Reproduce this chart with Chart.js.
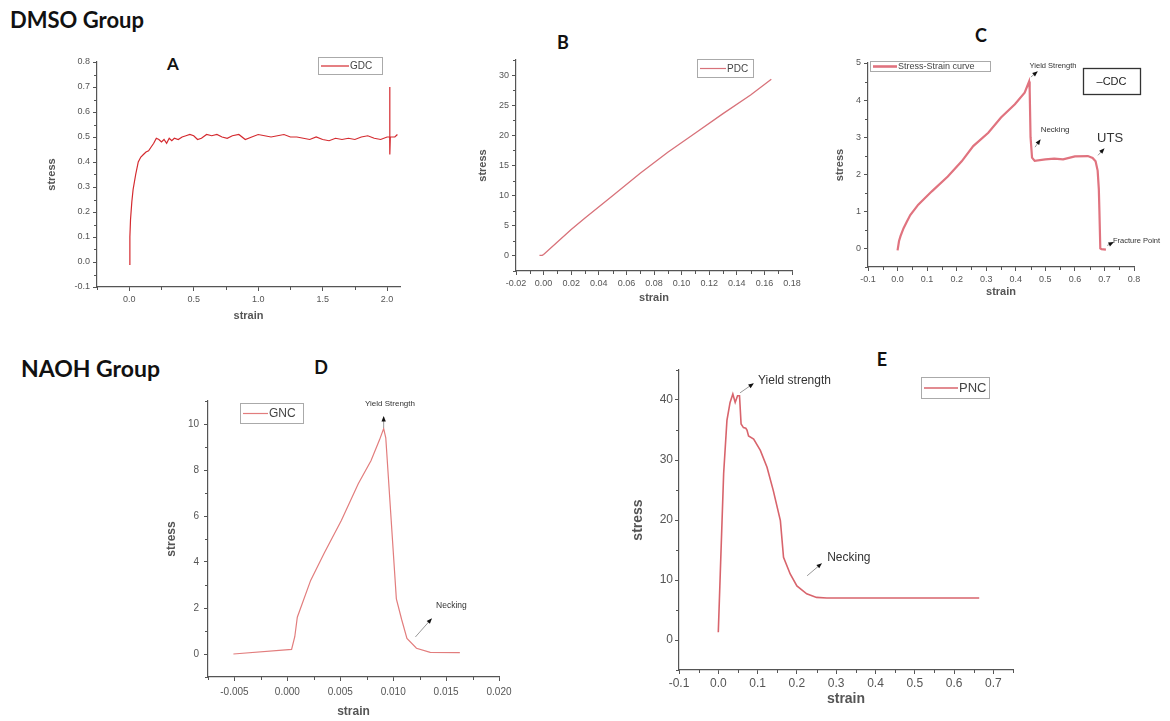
<!DOCTYPE html>
<html>
<head>
<meta charset="utf-8">
<script src="https://cdn.jsdelivr.net/npm/chart.js@4.4.1/dist/chart.umd.min.js"></script>
<style>
body { margin: 0; background: #fff; width: 1170px; height: 721px; position: relative; overflow: hidden; }
canvas { position: absolute; }
.head { position: absolute; font-family: Lato, "Open Sans", sans-serif; font-weight: 700; color: #111; white-space: nowrap; line-height: 1; }
.tag { position: absolute; font-family: Lato, "Open Sans", sans-serif; font-weight: 700; color: #111; transform: translate(-50%, -50%); line-height: 1; }
</style>
</head>
<body>
<div class="head" style="left:10px;top:9px;font-size:22px">DMSO Group</div>
<div class="head" style="left:21px;top:357px;font-size:23px">NAOH Group</div>
<div class="tag" style="left:173px;top:63px;font-size:17px">A</div>
<div class="tag" style="left:563px;top:42px;font-size:18px">B</div>
<div class="tag" style="left:981px;top:35px;font-size:18px">C</div>
<div class="tag" style="left:321px;top:367px;font-size:18px">D</div>
<div class="tag" style="left:882px;top:359px;font-size:18px">E</div>

<canvas id="chartA" width="370" height="273" style="left:45px;top:50px"></canvas>
<canvas id="chartB" width="336" height="257" style="left:476px;top:48px"></canvas>
<canvas id="chartC" width="337" height="248" style="left:833px;top:51px"></canvas>
<canvas id="chartD" width="355" height="332" style="left:164px;top:387px"></canvas>
<canvas id="chartE" width="398" height="350" style="left:630px;top:358px"></canvas>

<script>
// A - GDC
const aStrain = [0, 0.005, 0.01, 0.02, 0.03, 0.05, 0.07, 0.09, 0.11, 0.13, 0.15, 0.17, 0.19, 0.21, 0.23, 0.25, 0.27, 0.29, 0.31, 0.33, 0.35, 0.38, 0.41, 0.44, 0.47, 0.50, 0.53, 0.56, 0.60, 0.64, 0.68, 0.72, 0.76, 0.80, 0.85, 0.90, 0.95, 1.00, 1.05, 1.10, 1.15, 1.20, 1.25, 1.30, 1.35, 1.40, 1.45, 1.50, 1.55, 1.60, 1.65, 1.70, 1.75, 1.80, 1.85, 1.90, 1.95, 2.00, 2.02, 2.02, 2.022, 2.025, 2.06, 2.08]
const aStress = [-0.01, 0.1, 0.17, 0.24, 0.29, 0.35, 0.40, 0.42, 0.43, 0.44, 0.445, 0.46, 0.475, 0.495, 0.49, 0.48, 0.49, 0.475, 0.495, 0.485, 0.495, 0.49, 0.5, 0.505, 0.51, 0.505, 0.49, 0.495, 0.51, 0.505, 0.51, 0.5, 0.495, 0.505, 0.51, 0.49, 0.5, 0.51, 0.505, 0.5, 0.505, 0.51, 0.5, 0.5, 0.495, 0.49, 0.5, 0.49, 0.485, 0.495, 0.49, 0.495, 0.49, 0.5, 0.505, 0.495, 0.49, 0.5, 0.5, 0.70, 0.43, 0.5, 0.5, 0.51]
const aXTicks = [0, 0.5, 1, 1.5, 2]
const aXLabels = ['0.0', '0.5', '1.0', '1.5', '2.0']
const aYTicks = [-0.1, 0, 0.1, 0.2, 0.3, 0.4, 0.5, 0.6, 0.7, 0.8]
const aYLabels = ['-0.1', '0.0', '0.1', '0.2', '0.3', '0.4', '0.5', '0.6', '0.7', '0.8']

// B - PDC
const bStrain = [-0.003, -0.001, 0.0, 0.01, 0.02, 0.03, 0.05, 0.07, 0.09, 0.11, 0.13, 0.15, 0.165]
const bStress = [0.1, 0.1, 0.25, 2.3, 4.4, 6.3, 10.0, 13.7, 17.2, 20.4, 23.6, 26.7, 29.3]
const bXTicks = [-0.02, 0, 0.02, 0.04, 0.06, 0.08, 0.10, 0.12, 0.14, 0.16, 0.18]
const bXLabels = ['-0.02', '0.00', '0.02', '0.04', '0.06', '0.08', '0.10', '0.12', '0.14', '0.16', '0.18']
const bYTicks = [0, 5, 10, 15, 20, 25, 30]
const bYLabels = ['0', '5', '10', '15', '20', '25', '30']

// C - CDC
const cStrain = [0, 0.005, 0.01, 0.02, 0.03, 0.043, 0.07, 0.116, 0.17, 0.217, 0.256, 0.307, 0.35, 0.397, 0.43, 0.445, 0.447, 0.45, 0.455, 0.464, 0.5, 0.53, 0.56, 0.6, 0.644, 0.66, 0.67, 0.677, 0.681, 0.683, 0.686, 0.69, 0.705]
const cStress = [-0.05, 0.2, 0.33, 0.54, 0.7, 0.9, 1.18, 1.54, 1.94, 2.35, 2.76, 3.12, 3.53, 3.89, 4.2, 4.5, 4.3, 3.0, 2.45, 2.36, 2.4, 2.42, 2.4, 2.48, 2.49, 2.44, 2.35, 2.1, 1.6, 1.0, 0.0, -0.02, -0.03]
const cXTicks = [-0.1, 0, 0.1, 0.2, 0.3, 0.4, 0.5, 0.6, 0.7, 0.8]
const cXLabels = ['-0.1', '0.0', '0.1', '0.2', '0.3', '0.4', '0.5', '0.6', '0.7', '0.8']
const cYTicks = [0, 1, 2, 3, 4, 5]
const cYLabels = ['0', '1', '2', '3', '4', '5']

// D - GNC
const dStrain = [-0.0051, 0.0004, 0.0007, 0.00094, 0.0022, 0.0035, 0.0051, 0.0067, 0.0079, 0.0087, 0.0091, 0.0093, 0.0103, 0.0108, 0.0113, 0.0122, 0.0135, 0.0163]
const dStress = [0, 0.2, 0.75, 1.6, 3.2, 4.4, 5.8, 7.4, 8.4, 9.3, 9.8, 9.4, 2.4, 1.5, 0.68, 0.25, 0.07, 0.06]
const dXTicks = [-0.005, 0, 0.005, 0.010, 0.015, 0.020]
const dXLabels = ['-0.005', '0.000', '0.005', '0.010', '0.015', '0.020']
const dYTicks = [0, 2, 4, 6, 8, 10]
const dYLabels = ['0', '2', '4', '6', '8', '10']

// E - PNC
const eStrain = [0, 0.005, 0.0136, 0.022, 0.03, 0.037, 0.043, 0.049, 0.054, 0.058, 0.064, 0.07, 0.073, 0.077, 0.09, 0.107, 0.124, 0.14, 0.158, 0.166, 0.183, 0.2, 0.225, 0.25, 0.276, 0.35, 0.5, 0.664]
const eStress = [1.3, 11, 27.7, 36.6, 39.6, 41, 39.6, 40.7, 40.7, 36, 35.4, 35.3, 35, 34, 33.5, 31.6, 28.8, 24.9, 19.9, 13.8, 11, 9, 7.7, 7.1, 7.0, 7.0, 7.0, 7.0]
const eXTicks = [-0.1, 0, 0.1, 0.2, 0.3, 0.4, 0.5, 0.6, 0.7]
const eXLabels = ['-0.1', '0.0', '0.1', '0.2', '0.3', '0.4', '0.5', '0.6', '0.7']
const eYTicks = [0, 10, 20, 30, 40]
const eYLabels = ['0', '10', '20', '30', '40']

const FONT = '"Liberation Sans", Arial, sans-serif'
const AXIS = '#555'

// small ticks between the labelled ones, Origin style
const minorTicks = {
    id: 'minorTicks',
    afterDraw (chart, args, opts) {
        const ctx = chart.ctx
        const area = chart.chartArea
        ctx.save()
        ctx.strokeStyle = AXIS
        ctx.lineWidth = 1
        for (const id of ['x', 'y']) {
            const s = chart.scales[id]
            const step = opts[id]
            if (!step) continue
            const major = s.ticks.map(t => t.value)
            for (let i = Math.ceil(s.min / step - 1e-6); i * step <= s.max + 1e-9; i++) {
                const v = i * step
                if (major.some(m => Math.abs(m - v) < step / 100)) continue
                const p = Math.round(s.getPixelForValue(v)) + 0.5
                ctx.beginPath()
                if (id === 'x') {
                    ctx.moveTo(p, area.bottom)
                    ctx.lineTo(p, area.bottom + 3)
                } else {
                    ctx.moveTo(area.left, p)
                    ctx.lineTo(area.left - 3, p)
                }
                ctx.stroke()
            }
        }
        ctx.restore()
    }
}

// boxed legend inside the plot
const boxLegend = {
    id: 'boxLegend',
    afterDraw (chart, args, o) {
        if (!o.w) return
        const ds = chart.data.datasets[0]
        const a = chart.chartArea
        const ctx = chart.ctx
        const x = Math.round(a.left + o.dx)
        const y = Math.round(a.top + o.dy)
        ctx.save()
        ctx.fillStyle = '#fff'
        ctx.fillRect(x, y, o.w, o.h)
        ctx.strokeStyle = '#aaa'
        ctx.lineWidth = 1
        ctx.strokeRect(x + 0.5, y + 0.5, o.w, o.h)
        ctx.strokeStyle = ds.borderColor
        ctx.lineWidth = o.lw
        ctx.beginPath()
        ctx.moveTo(x + 3, y + o.h / 2 + 0.5)
        ctx.lineTo(x + 3 + o.len, y + o.h / 2 + 0.5)
        ctx.stroke()
        ctx.fillStyle = '#444'
        ctx.font = o.size + 'px ' + FONT
        ctx.textBaseline = 'middle'
        ctx.fillText(ds.label, x + 4 + o.len, y + o.h / 2 + 1)
        ctx.restore()
    }
}

// text notes and small arrows, placed in data units
const notes = {
    id: 'notes',
    afterDraw (chart, args, o) {
        const ctx = chart.ctx
        const sx = chart.scales.x
        const sy = chart.scales.y
        const a = chart.chartArea
        ctx.save()
        for (const r of (o.arrows || [])) {
            const x1 = sx.getPixelForValue(r[0]), y1 = sy.getPixelForValue(r[1])
            const x2 = sx.getPixelForValue(r[2]), y2 = sy.getPixelForValue(r[3])
            const ang = Math.atan2(y2 - y1, x2 - x1)
            ctx.strokeStyle = '#999'
            ctx.lineWidth = 1
            ctx.beginPath()
            ctx.moveTo(x1, y1)
            ctx.lineTo(x2, y2)
            ctx.stroke()
            ctx.fillStyle = '#111'
            ctx.beginPath()
            ctx.moveTo(x2 + Math.cos(ang), y2 + Math.sin(ang))
            ctx.lineTo(x2 - 5 * Math.cos(ang - 0.45), y2 - 5 * Math.sin(ang - 0.45))
            ctx.lineTo(x2 - 5 * Math.cos(ang + 0.45), y2 - 5 * Math.sin(ang + 0.45))
            ctx.closePath()
            ctx.fill()
        }
        for (const t of (o.labels || [])) {
            ctx.fillStyle = '#333'
            ctx.font = t.size + 'px ' + FONT
            ctx.textAlign = t.align || 'center'
            ctx.textBaseline = 'middle'
            ctx.fillText(t.text, sx.getPixelForValue(t.x), sy.getPixelForValue(t.y))
        }
        if (o.box) {
            const b = o.box
            const x = Math.round(a.left + b.dx), y = Math.round(a.top + b.dy)
            ctx.strokeStyle = '#333'
            ctx.lineWidth = 1.3
            ctx.strokeRect(x + 0.5, y + 0.5, b.w, b.h)
            ctx.fillStyle = '#222'
            ctx.font = b.size + 'px ' + FONT
            ctx.textAlign = 'center'
            ctx.textBaseline = 'middle'
            ctx.fillText(b.text, x + b.w / 2, y + b.h / 2 + 1)
        }
        ctx.restore()
    }
}

function axis (min, max, ticks, labels, title, p, isX) {
    return {
        type: 'linear',
        min: min,
        max: max,
        afterBuildTicks: s => { s.ticks = ticks.map(v => ({ value: v })) },
        afterFit: s => {
            if (isX) s.height = p.xH
            else s.width = p.yW
        },
        grid: { display: true, drawOnChartArea: false, drawTicks: true, tickLength: 4, color: AXIS, tickColor: AXIS },
        border: { display: true, color: AXIS, width: 1.2 },
        ticks: {
            autoSkip: false,
            maxRotation: 0,
            color: '#555',
            padding: p.tickPad,
            font: { family: FONT, size: p.tick },
            callback: (v, i) => labels[i]
        },
        title: {
            display: true,
            text: title,
            color: '#555',
            padding: 0,
            font: { family: FONT, size: p.title, weight: 'bold' }
        }
    }
}

function buildPanel (id, strain, stress, label, color, lw, p) {
    return new Chart(document.getElementById(id), {
        type: 'line',
        data: {
            datasets: [{
                label: label,
                data: strain.map((x, i) => ({ x: x, y: stress[i] })),
                borderColor: color,
                borderWidth: lw,
                pointRadius: 0,
                tension: 0,
                fill: false
            }]
        },
        options: {
            responsive: false,
            animation: false,
            devicePixelRatio: 1,
            layout: { padding: { top: p.padTop, right: p.padRight, left: 0, bottom: 0 } },
            plugins: {
                legend: false,
                tooltip: false,
                minorTicks: p.minor,
                boxLegend: p.legend,
                notes: p.notes || {}
            },
            scales: {
                x: axis(p.x[0], p.x[1], p.xTicks, p.xLabels, 'strain', p, true),
                y: axis(p.y[0], p.y[1], p.yTicks, p.yLabels, 'stress', p, false)
            }
        },
        plugins: [minorTicks, boxLegend, notes]
    })
}

buildPanel('chartA', aStrain, aStress, 'GDC', '#d42a2f', 1.2, {
    x: [-0.25, 2.1], y: [-0.1, 0.8],
    xTicks: aXTicks, xLabels: aXLabels, yTicks: aYTicks, yLabels: aYLabels,
    yW: 52, xH: 36, padTop: 12, padRight: 15, tick: 9, title: 11, tickPad: 3,
    minor: { x: 0.25, y: 0.05 },
    legend: { dx: 221, dy: -5, w: 64, h: 17, size: 10, len: 28, lw: 1.2 }
})

buildPanel('chartB', bStrain, bStress, 'PDC', '#d8727a', 1.3, {
    x: [-0.02, 0.18], y: [-2.5, 32.5],
    xTicks: bXTicks, xLabels: bXLabels, yTicks: bYTicks, yLabels: bYLabels,
    yW: 40, xH: 34, padTop: 12, padRight: 20, tick: 9, title: 11, tickPad: 3,
    minor: { x: 0.01, y: 2.5 },
    legend: { dx: 181, dy: -1, w: 56, h: 18, size: 10, len: 26, lw: 1.2 }
})

buildPanel('chartC', cStrain, cStress, 'Stress-Strain curve', '#e0737f', 2.2, {
    x: [-0.1, 0.8], y: [-0.5, 5],
    xTicks: cXTicks, xLabels: cXLabels, yTicks: cYTicks, yLabels: cYLabels,
    yW: 35, xH: 32, padTop: 12, padRight: 36, tick: 9, title: 11, tickPad: 3,
    minor: { x: 0.05, y: 0.5 },
    legend: { dx: 2, dy: -2, w: 120, h: 10, size: 9, len: 24, lw: 2.6 },
    notes: {
        labels: [
            { text: 'Yield Strength', x: 0.526, y: 4.92, size: 7.5 },
            { text: 'Necking', x: 0.533, y: 3.19, size: 8 },
            { text: 'UTS', x: 0.719, y: 2.97, size: 13 },
            { text: 'Fracture Point', x: 0.729, y: 0.19, size: 7.5, align: 'left' }
        ],
        arrows: [
            [0.451, 4.62, 0.472, 4.76],
            [0.465, 2.73, 0.482, 2.92],
            [0.678, 2.51, 0.698, 2.68],
            [0.709, 0.08, 0.729, 0.16]
        ],
        box: { dx: 215, dy: 5, w: 57, h: 26, text: '–CDC', size: 11 }
    }
})

buildPanel('chartD', dStrain, dStress, 'GNC', '#e27d7d', 1.2, {
    x: [-0.0075, 0.02], y: [-1, 11],
    xTicks: dXTicks, xLabels: dXLabels, yTicks: dYTicks, yLabels: dYLabels,
    yW: 44, xH: 42, padTop: 14, padRight: 20, tick: 10, title: 12, tickPad: 5,
    minor: { x: 0.0025, y: 1 },
    legend: { dx: 32, dy: 2, w: 63, h: 20, size: 12, len: 25, lw: 1.2 },
    notes: {
        labels: [
            { text: 'Yield Strength', x: 0.0097, y: 10.87, size: 8 },
            { text: 'Necking', x: 0.0155, y: 2.09, size: 8.5 }
        ],
        arrows: [
            [0.0091, 9.83, 0.0091, 10.3],
            [0.0121, 0.74, 0.0136, 1.52]
        ]
    }
})

buildPanel('chartE', eStrain, eStress, 'PNC', '#d8646c', 1.6, {
    x: [-0.1, 0.75], y: [-5, 45],
    xTicks: eXTicks, xLabels: eXLabels, yTicks: eYTicks, yLabels: eYLabels,
    yW: 49, xH: 38, padTop: 12, padRight: 15, tick: 12, title: 14, tickPad: 2,
    minor: { x: 0.05, y: 5 },
    legend: { dx: 242, dy: 7, w: 68, h: 21, size: 13, len: 34, lw: 1.4 },
    notes: {
        labels: [
            { text: 'Yield strength', x: 0.101, y: 43.2, size: 12, align: 'left' },
            { text: 'Necking', x: 0.277, y: 13.8, size: 12, align: 'left' }
        ],
        arrows: [
            [0.0554, 41.2, 0.0885, 42.7],
            [0.226, 10.7, 0.262, 12.7]
        ]
    }
})
</script>
</body>
</html>
